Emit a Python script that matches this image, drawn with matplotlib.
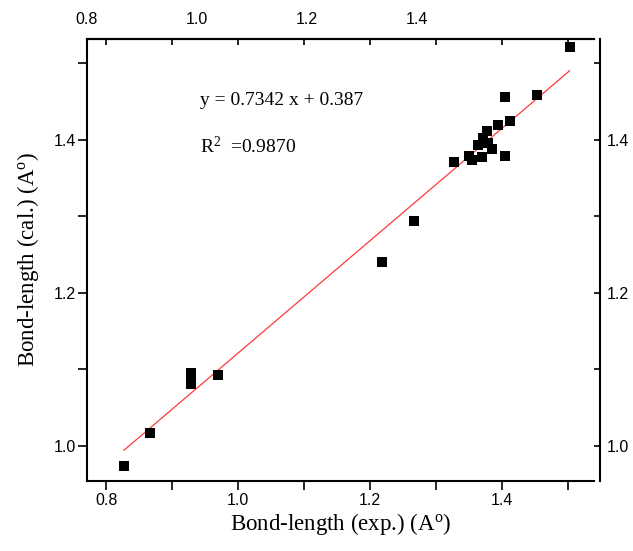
import matplotlib
matplotlib.use("Agg")
import matplotlib.pyplot as plt
import numpy as np

plt.rcParams['mathtext.fontset'] = 'custom'
plt.rcParams['mathtext.rm'] = 'Liberation Serif'
plt.rcParams['mathtext.it'] = 'Liberation Serif:italic'

# Data
exp_len = [0.827, 0.867, 0.929, 0.929, 0.929, 0.969, 1.218, 1.267,
           1.327, 1.350, 1.355, 1.364, 1.370, 1.372, 1.377, 1.379, 1.385,
           1.395, 1.405, 1.405, 1.412, 1.453, 1.503]
cal_len = [0.974, 1.017, 1.095, 1.088, 1.081, 1.093, 1.241, 1.294,
           1.371, 1.379, 1.374, 1.393, 1.378, 1.402, 1.412, 1.396, 1.388,
           1.420, 1.456, 1.379, 1.425, 1.459, 1.522]
slope = 0.7342
intercept = 0.387
r2 = 0.9870
fit_x = [min(exp_len), max(exp_len)]

xlabel = r'Bond-length (exp.) (A$^{\mathrm{o}}$)'
ylabel = r'Bond-length (cal.) (A$^{\mathrm{o}}$)'
major_ticks = [0.8, 1.0, 1.2, 1.4]
minor_x = [0.9, 1.1, 1.3, 1.5]
y_major = [1.0, 1.2, 1.4]
y_minor = [1.1, 1.3, 1.5]
top_labels = [0.8, 1.0, 1.2, 1.4]

W, H = 633, 551
fig = plt.figure(figsize=(W/100, H/100), dpi=100)
ax = fig.add_axes([87/W, 1-481/H, (594-87)/W, (481-39)/H])

tickfont = 'Liberation Sans'
serif = 'Liberation Serif'
tfs = 11.5

ax.scatter(exp_len, cal_len, marker='s', s=44, color='black', zorder=3, linewidths=0)
fx = np.array(fit_x)
ax.plot(fx, slope*fx + intercept, color='#ff3a3a', lw=0.9, zorder=2)

ax.set_xlim(0.771, 1.540)
ax.set_ylim(0.954, 1.532)

ax.set_xticks(major_ticks)
ax.set_xticks(minor_x, minor=True)
ax.set_yticks(y_major)
ax.set_yticks(y_minor, minor=True)
ax.set_xticklabels([f'{v:.1f}' for v in major_ticks])
ax.set_yticklabels([f'{v:.1f}' for v in y_major])

ax.tick_params(axis='x', which='both', direction='out', length=6.5, width=1.2,
               bottom=True, top=False, pad=2, labelsize=tfs, labelfontfamily=tickfont)
ax.tick_params(axis='y', which='both', direction='out', length=6.5, width=1.2,
               left=True, right=False, pad=1.5, labelsize=tfs, labelfontfamily=tickfont)
ax.spines['right'].set_visible(False)
for s in ('left', 'bottom', 'top'):
    ax.spines[s].set_linewidth(1.5)

# top ticks (inward, unlabeled)
sec = ax.secondary_xaxis('top')
sec.set_xticks(major_ticks)
sec.set_xticks(minor_x, minor=True)
sec.set_xticklabels([])
sec.tick_params(axis='x', which='both', direction='in', length=4.5, width=1.2)
sec.spines['top'].set_linewidth(1.5)

# top labels (as in reference, on a separate scale)
axl = ax.twiny()
axl.set_xlim(0.8, 0.8 + 507/550)
axl.set_xticks(top_labels)
axl.set_xticklabels([f'{v:.1f}' for v in top_labels])
axl.tick_params(axis='x', which='both', length=0, pad=9,
                labelsize=tfs, labelfontfamily=tickfont)
for s in axl.spines.values():
    s.set_visible(False)

# right axis
axr = ax.twinx()
axr.set_ylim(ax.get_ylim())
axr.set_yticks(y_major)
axr.set_yticks(y_minor, minor=True)
axr.set_yticklabels([f'{v:.1f}' for v in y_major])
axr.tick_params(axis='y', which='both', direction='in', length=4.5, width=1.2, pad=5.5,
                labelsize=tfs, labelfontfamily=tickfont)
for s in ('left', 'top', 'bottom'):
    axr.spines[s].set_visible(False)
axr.spines['right'].set_position(('outward', 4))
axr.spines['right'].set_linewidth(1.5)

ax.set_xlabel(xlabel, fontfamily=serif, fontsize=16.5, labelpad=2)
ax.set_ylabel(ylabel, fontfamily=serif, fontsize=16.5, labelpad=9)

ax.text(200/W, 1-100/H, f'y = {slope} x + {intercept}', transform=fig.transFigure,
        fontfamily=serif, fontsize=14, va='center', ha='left')
ax.text(200/W, 1-146/H, r'R$^{2}$  =' + f'{r2:.4f}', transform=fig.transFigure,
        fontfamily=serif, fontsize=14, va='center', ha='left')

fig.savefig('out.png', dpi=100)
